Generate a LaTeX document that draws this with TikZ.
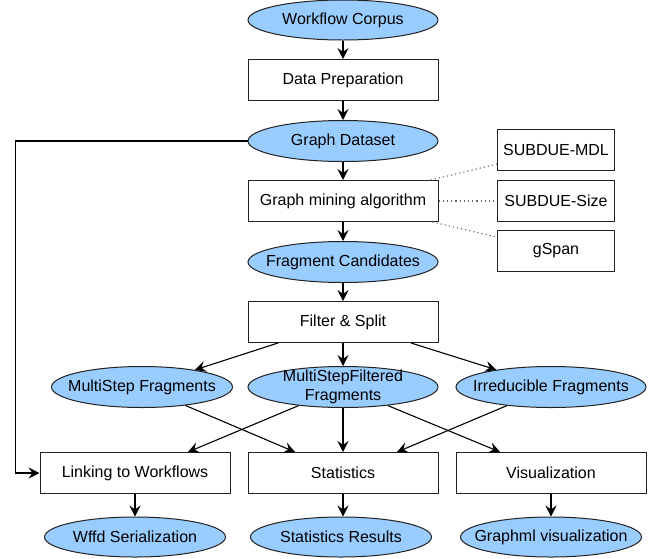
\documentclass[tikz,border=0pt]{standalone}
\usepackage{fontspec}
\setmainfont{Liberation Sans}
\usetikzlibrary{shapes.geometric,arrows.meta}
\definecolor{ellblue}{HTML}{99CCFF}
\definecolor{linegray}{HTML}{222222}
\tikzset{
  ell/.style={ellipse, draw=linegray, line width=1pt, fill=ellblue, minimum width=190pt, minimum height=41pt, inner xsep=-60pt, inner ysep=-14pt, align=center, font=\fontsize{16}{19}\selectfont},
  stepbox/.style={rectangle, draw=linegray, line width=1pt, fill=white, minimum width=190pt, minimum height=41pt, inner sep=0pt, align=center, font=\fontsize{16}{19}\selectfont},
  algbox/.style={stepbox, minimum width=117pt},
  arr/.style={draw=black, line width=1.1pt, -{Stealth[length=11pt,width=11pt,inset=4pt]}},
  dots/.style={draw=black!60, line width=1.1pt, dash pattern=on 1.2pt off 3pt}
}
\begin{document}
\begin{tikzpicture}[x=1pt,y=-1pt]
\useasboundingbox (0,0) rectangle (658,558);
\node[ell, minimum height=40pt] (wc) at (343,20) {Workflow Corpus};
\node[stepbox] (dp) at (343,80) {Data Preparation};
\node[ell] (gd) at (343,141) {Graph Dataset};
\node[stepbox] (gm) at (343,201) {Graph mining algorithm};
\node[ell] (fc) at (343,262) {Fragment Candidates};
\node[stepbox] (fs) at (343,322) {Filter \& Split};
\node[ell, minimum width=181pt] (ms) at (142,387) {MultiStep Fragments};
\node[ell] (msf) at (343,387) {MultiStepFiltered\\Fragments};
\node[ell] (ir) at (551,387) {Irreducible Fragments};
\node[stepbox] (lk) at (135,473) {Linking to Workflows};
\node[stepbox] (st) at (343,473) {Statistics};
\node[stepbox] (vz) at (551,473) {Visualization};
\node[ell, minimum width=181pt, minimum height=40pt] (wf) at (135,537) {Wffd Serialization};
\node[ell, minimum width=181pt, minimum height=40pt] (sr) at (341,537) {Statistics Results};
\node[ell, minimum width=181pt, minimum height=40pt] (gml) at (551,537) {Graphml visualization};
\node[algbox] (mdl) at (556,150) {SUBDUE-MDL};
\node[algbox] (sz) at (556,201) {SUBDUE-Size};
\node[algbox] (gs) at (556,251) {gSpan};
\coordinate (lft) at (15.5,141);

\draw[arr] (wc) -- (dp);
\draw[arr] (dp) -- (gd);
\draw[arr] (gd) -- (gm);
\draw[arr] (gm) -- (fc);
\draw[arr] (fc) -- (fs);
\draw[arr] ([xshift=-65pt]fs.south) -- (ms);
\draw[arr] (fs) -- (msf);
\draw[arr] ([xshift=68pt]fs.south) -- (ir);
\draw[arr] (ms) -- ([xshift=-48pt]st.north);
\draw[arr] (msf) -- ([xshift=53pt]lk.north);
\draw[arr] (msf) -- (st);
\draw[arr] (msf) -- ([xshift=-51pt]vz.north);
\draw[arr] (ir) -- ([xshift=54pt]st.north);
\draw[arr] (lk) -- (wf);
\draw[arr] (st) -- (st |- sr.north);
\draw[arr] (vz) -- (gml);
\draw[arr] (gd.west) -- (lft) |- (lk.west);
\draw[dots] (gm) -- (mdl);
\draw[dots] (gm) -- (sz);
\draw[dots] (gm) -- (gs);
\end{tikzpicture}
\end{document}
